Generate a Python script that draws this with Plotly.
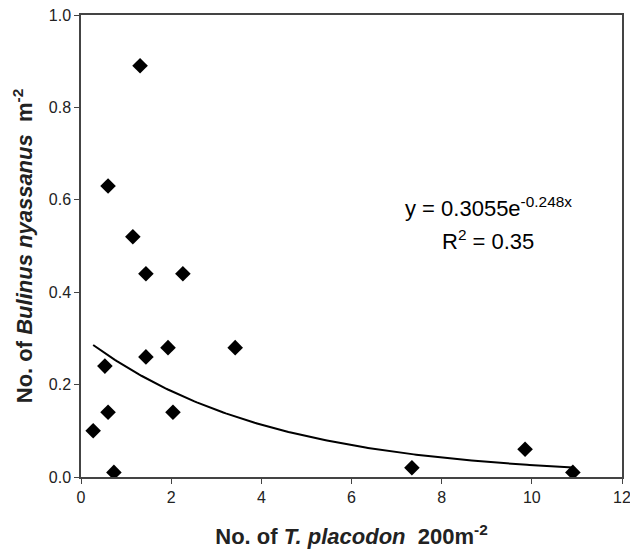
import numpy as np
import plotly.graph_objects as go

# Data
x_placodon = [0.27, 0.53, 0.60, 0.60, 0.73, 1.15, 1.31, 1.44, 1.44, 1.93, 2.04, 2.26, 3.42, 7.34, 9.85, 10.91]
y_bulinus = [0.10, 0.24, 0.14, 0.63, 0.01, 0.52, 0.89, 0.44, 0.26, 0.28, 0.14, 0.44, 0.28, 0.02, 0.06, 0.01]

# Fitted exponential trendline coefficients (from the chart's equation)
fit_a = 0.3055
fit_b = -0.248

x_ticks = [0, 2, 4, 6, 8, 10, 12]
y_ticks = [0.0, 0.2, 0.4, 0.6, 0.8, 1.0]
y_tick_labels = ["0.0", "0.2", "0.4", "0.6", "0.8", "1.0"]

xs = np.linspace(min(x_placodon), max(x_placodon), 200)
ys = fit_a * np.exp(fit_b * xs)

FONT = "Arial, Liberation Sans"

fig = go.Figure()
fig.add_trace(go.Scatter(x=xs, y=ys, mode="lines",
                         line=dict(color="black", width=2), showlegend=False, hoverinfo="skip"))
fig.add_trace(go.Scatter(x=x_placodon, y=y_bulinus, mode="markers",
                         marker=dict(symbol="diamond", size=12, color="black"),
                         showlegend=False))

fig.add_annotation(x=9.03, y=0.585, xref="x", yref="y",
                   text="y = 0.3055e<sup>-0.248x</sup>", showarrow=False,
                   font=dict(family=FONT, size=22, color="black"))
fig.add_annotation(x=9.03, y=0.513, xref="x", yref="y",
                   text="R<sup>2</sup> = 0.35", showarrow=False,
                   font=dict(family=FONT, size=22, color="black"))

axis_common = dict(showline=True, linecolor="#444444", linewidth=1.5, mirror=True,
                   ticks="outside", ticklen=5, tickcolor="#444444", showgrid=False, zeroline=False,
                   automargin=False, ticklabeloverflow="allow",
                   tickfont=dict(family=FONT, size=16, color="#222222"))

fig.update_xaxes(range=[0, 12], tickvals=x_ticks, ticktext=[str(t) for t in x_ticks],
                 title=dict(text="<b>No. of <i>T. placodon</i>  200m<sup>-2</sup></b>",
                            font=dict(family=FONT, size=22, color="#222222"),
                            standoff=24),
                 **axis_common)
fig.update_yaxes(range=[0, 1.0], tickvals=y_ticks, ticktext=y_tick_labels,
                 title=dict(text="<b>No. of <i>Bulinus nyassanus</i>  m<sup>-2</sup></b>",
                            font=dict(family=FONT, size=22, color="#222222"),
                            standoff=10),
                 **axis_common)

fig.update_layout(width=630, height=551, plot_bgcolor="white", paper_bgcolor="white",
                  margin=dict(l=81, r=8, t=15, b=74))

fig.write_html("out.html", config={"displayModeBar": False},
               post_script="document.body.style.margin='0';document.body.style.overflow='hidden';")
